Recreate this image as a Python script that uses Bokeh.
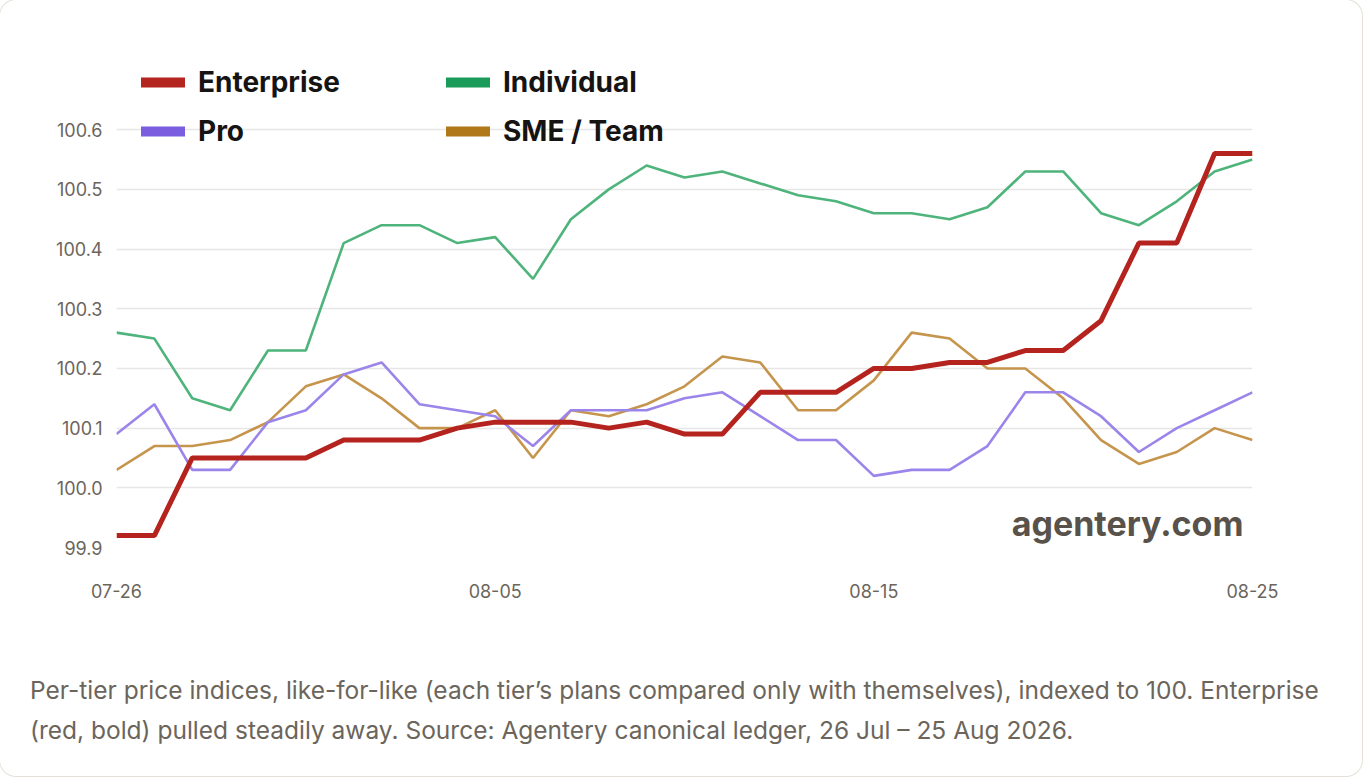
import numpy as np
from bokeh.plotting import figure
from bokeh.layouts import column
from bokeh.models import (FixedTicker, PrintfTickFormatter, Legend, LegendItem,
                          Label, Range1d, Div)
from bokeh.embed import file_html
from bokeh.resources import INLINE

# 26 Jul .. 25 Aug, one point per day
days = ["07-26", "07-27", "07-28", "07-29", "07-30", "07-31", "08-01", "08-02",
        "08-03", "08-04", "08-05", "08-06", "08-07", "08-08", "08-09", "08-10",
        "08-11", "08-12", "08-13", "08-14", "08-15", "08-16", "08-17", "08-18",
        "08-19", "08-20", "08-21", "08-22", "08-23", "08-24", "08-25"]
tick_days = ["07-26", "08-05", "08-15", "08-25"]
y_ticks = [99.9, 100.0, 100.1, 100.2, 100.3, 100.4, 100.5, 100.6]

enterprise = [99.92, 99.92, 100.05, 100.05, 100.05, 100.05, 100.08, 100.08,
              100.08, 100.10, 100.11, 100.11, 100.11, 100.10, 100.11, 100.09,
              100.09, 100.16, 100.16, 100.16, 100.20, 100.20, 100.21, 100.21,
              100.23, 100.23, 100.28, 100.41, 100.41, 100.56, 100.56]
individual = [100.26, 100.25, 100.15, 100.13, 100.23, 100.23, 100.41, 100.44,
              100.44, 100.41, 100.42, 100.35, 100.45, 100.50, 100.54, 100.52,
              100.53, 100.51, 100.49, 100.48, 100.46, 100.46, 100.45, 100.47,
              100.53, 100.53, 100.46, 100.44, 100.48, 100.53, 100.55]
pro = [100.09, 100.14, 100.03, 100.03, 100.11, 100.13, 100.19, 100.21,
       100.14, 100.13, 100.12, 100.07, 100.13, 100.13, 100.13, 100.15,
       100.16, 100.12, 100.08, 100.08, 100.02, 100.03, 100.03, 100.07,
       100.16, 100.16, 100.12, 100.06, 100.10, 100.13, 100.16]
sme_team = [100.03, 100.07, 100.07, 100.08, 100.11, 100.17, 100.19, 100.15,
            100.10, 100.10, 100.13, 100.05, 100.13, 100.12, 100.14, 100.17,
            100.22, 100.21, 100.13, 100.13, 100.18, 100.26, 100.25, 100.20,
            100.20, 100.15, 100.08, 100.04, 100.06, 100.10, 100.08]

x = list(range(len(days)))
FONT = "Inter"
MUTED = "#6b655c"

W, H = 1352, 670
LEFT, RIGHT, TOP, BOTTOM = 116, 100, 48, 123
Y0, Y1 = 99.9, 100.736

p = figure(width=W, height=H, output_backend="svg", toolbar_location=None,
           title=None, x_range=Range1d(0, len(days) - 1),
           y_range=Range1d(Y0, Y1))
p.min_border_left = LEFT
p.min_border_right = RIGHT
p.min_border_top = TOP
p.min_border_bottom = BOTTOM
p.outline_line_color = None
p.background_fill_color = "white"
p.border_fill_color = "white"

p.xgrid.grid_line_color = None
p.ygrid.grid_line_color = "#e6e6e6"
p.ygrid.grid_line_width = 1.6

p.xaxis.ticker = FixedTicker(ticks=[days.index(d) for d in tick_days])
p.xaxis.major_label_overrides = {days.index(d): d for d in tick_days}
p.yaxis.ticker = FixedTicker(ticks=y_ticks)
p.yaxis.formatter = PrintfTickFormatter(format="%.1f")
for ax in (p.xaxis[0], p.yaxis[0]):
    ax.axis_line_color = None
    ax.major_tick_line_color = None
    ax.minor_tick_line_color = None
    ax.major_label_text_font = FONT
    ax.major_label_text_font_size = "18px"
    ax.major_label_text_color = MUTED
p.xaxis.major_label_standoff = 30
p.yaxis.major_label_standoff = 8

# lines, enterprise drawn last and heavier
p.line(x, sme_team, line_color="#c0893a", line_alpha=0.9, line_width=2.6)
p.line(x, pro, line_color="#9c85ea", line_width=2.6)
p.line(x, individual, line_color="#4fb47c", line_width=2.6)
p.line(x, enterprise, line_color="#b5231f", line_width=5)

# legend swatches: fat rounded bars
def swatch(color):
    return p.line([np.nan], [np.nan], line_color=color, line_width=10,
                  line_cap="round")

sw = {
    "Enterprise": swatch("#b5251f"),
    "Individual": swatch("#1a9b5a"),
    "Pro": swatch("#7b5ee0"),
    "SME / Team": swatch("#b07818"),
}

def make_legend(names, xpos):
    lg = Legend(items=[LegendItem(label=n, renderers=[sw[n]]) for n in names],
                location=(xpos, 399), orientation="vertical")
    lg.border_line_color = None
    lg.background_fill_alpha = 0
    lg.padding = 0
    lg.margin = 0
    lg.spacing = 15
    lg.glyph_width = 44
    lg.glyph_height = 34
    lg.label_height = 34
    lg.label_standoff = 13
    lg.label_text_font = FONT
    lg.label_text_font_size = "28px"
    lg.label_text_font_style = "bold"
    lg.label_text_color = "#161412"
    p.add_layout(lg, "center")

make_legend(["Enterprise", "Pro"], 25)
make_legend(["Individual", "SME / Team"], 330)

# watermark, placed from pixel targets inside the frame
frame_h = H - TOP - BOTTOM
frame_w = W - LEFT - RIGHT
def dx(px):
    return (px - LEFT) / frame_w * (len(days) - 1)
def dy(py):
    return Y0 + (H - BOTTOM - py) / frame_h * (Y1 - Y0)

p.add_layout(Label(x=dx(1243), y=dy(523), text="agentery.com", text_align="right",
                   text_baseline="middle", text_font=FONT,
                   text_font_size="34px", text_font_style="bold",
                   text_color="#58524a"))

caption = ("Per-tier price indices, like-for-like (each tier\u2019s plans compared only "
           "with themselves), indexed to 100. Enterprise<br>"
           "(red, bold) pulled steadily away. Source: Agentery canonical ledger, "
           "26 Jul \u2013 25 Aug 2026.")
cap = Div(text='<div style="margin-top:-5px">' + caption + '</div>', width=W, height=96,
          styles={"font-family": FONT, "font-size": "24.5px", "line-height": "40px",
                  "color": MUTED, "padding-left": "25px", "box-sizing": "border-box",
                  "background": "white", "white-space": "nowrap"})

layout = column(p, cap, spacing=0,
                styles={"border-radius": "16px", "overflow": "hidden",
                        "box-shadow": "0 0 0 1px #e4e0d6", "background": "white"})

open("out.html", "w").write(file_html(layout, INLINE))
